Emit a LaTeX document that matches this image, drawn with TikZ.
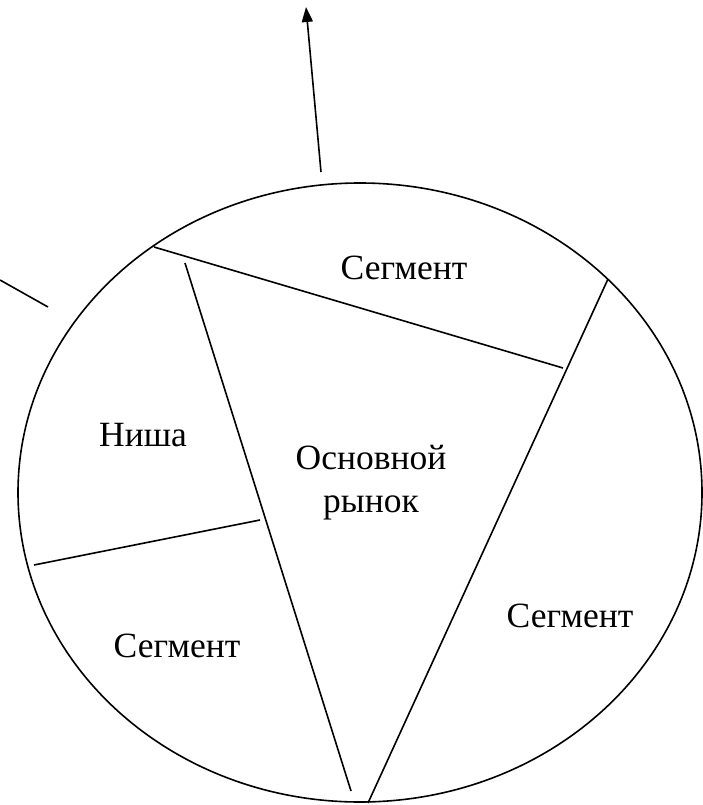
\documentclass[tikz,border=0pt]{standalone}
\usepackage{fontspec}
\setmainfont{Liberation Serif}
\usepackage{tikz}
\usetikzlibrary{arrows.meta}
\tikzset{
	market/.style={font=\fontsize{35.5}{43}\selectfont, inner sep=0pt, anchor=base, align=center}
}

\begin{document}
\begin{tikzpicture}[x=1pt, y=-1pt, line width=1.6pt]
	\useasboundingbox (0,0) rectangle (703,805);

	\coordinate (O) at (360,492.5);
	\coordinate (A) at (154,247);
	\coordinate (B) at (563,368);
	\coordinate (C) at (185,263);
	\coordinate (D) at (351,791);
	\coordinate (E) at (608,279);
	\coordinate (F) at (368,803);
	\coordinate (G) at (34,565);
	\coordinate (H) at (260,520);
	\coordinate (P) at (321,172);
	\coordinate (Q) at (306,7);
	\coordinate (R) at (0,280);
	\coordinate (S) at (48,307);

	\draw (O) ellipse [x radius=342pt, y radius=309.5pt];

	\draw (A) -- (B);
	\draw (C) -- (D);
	\draw (E) -- (F);
	\draw (G) -- (H);
	\draw (R) -- (S);
	\draw[-{Triangle[length=15pt, width=11pt]}] (P) -- (Q);

	\node[market] (segtop) at (404,279) {Сегмент};
	\node[market] (niche) at (143,446) {Ниша};
	\node[market] (core) at (371,512) {Основной\\рынок};
	\node[market] (segright) at (570,627) {Сегмент};
	\node[market] (segleft) at (177,657) {Сегмент};

\end{tikzpicture}
\end{document}
